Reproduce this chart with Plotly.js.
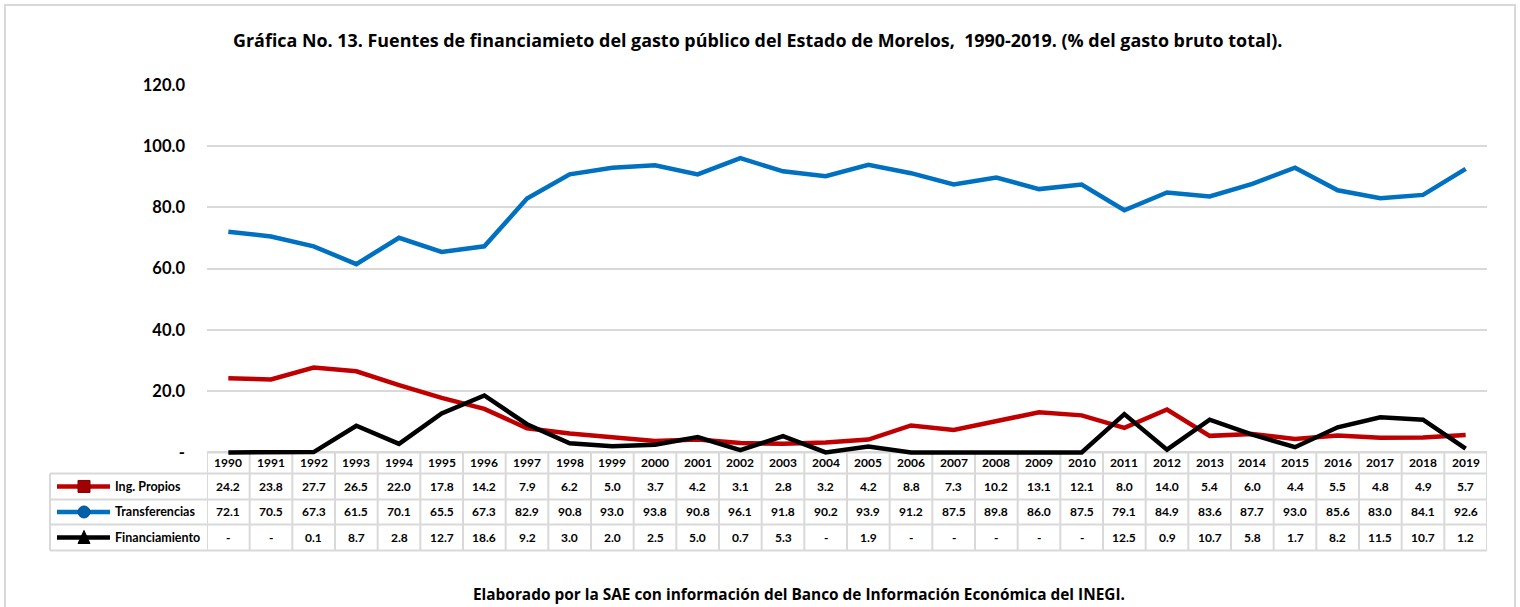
<!DOCTYPE html>
<html>
<head>
<meta charset="utf-8">
<script src="https://cdn.plot.ly/plotly-3.0.1.min.js"></script>
<style>
  html, body { margin:0; padding:0; background:#fff; }
  #chart { width:1520px; height:607px; }
</style>
</head>
<body>
<div id="chart"></div>
<script>
const years = [1990,1991,1992,1993,1994,1995,1996,1997,1998,1999,2000,2001,2002,2003,2004,2005,2006,2007,2008,2009,2010,2011,2012,2013,2014,2015,2016,2017,2018,2019];
const ingPropios = [24.2,23.8,27.7,26.5,22.0,17.8,14.2,7.9,6.2,5.0,3.7,4.2,3.1,2.8,3.2,4.2,8.8,7.3,10.2,13.1,12.1,8.0,14.0,5.4,6.0,4.4,5.5,4.8,4.9,5.7];
const transferencias = [72.1,70.5,67.3,61.5,70.1,65.5,67.3,82.9,90.8,93.0,93.8,90.8,96.1,91.8,90.2,93.9,91.2,87.5,89.8,86.0,87.5,79.1,84.9,83.6,87.7,93.0,85.6,83.0,84.1,92.6];
const financiamiento = [null,null,0.1,8.7,2.8,12.7,18.6,9.2,3.0,2.0,2.5,5.0,0.7,5.3,null,1.9,null,null,null,null,null,12.5,0.9,10.7,5.8,1.7,8.2,11.5,10.7,1.2];
const seriesNames = ["Ing. Propios","Transferencias","Financiamiento"];
const yTickVals = [0,20,40,60,80,100,120];
const yTickText = ["-","20.0","40.0","60.0","80.0","100.0","120.0"];
const titleText = "Gráfica No. 13. Fuentes de financiamieto del gasto público del Estado de Morelos,  1990-2019. (% del gasto bruto total).";
const sourceText = "Elaborado por la SAE con información del Banco de Información Económica del INEGI.";

const FONT = "Lato, 'Open Sans', sans-serif";
const FONT2 = "'Open Sans', Lato, sans-serif";
const colors = ["#C00000","#0070C0","#000000"];
const allSeries = [ingPropios, transferencias, financiamiento];

// pixel frame
const L = 207, R = 1487, T = 85, Y0 = 452, W = 1520, H = 607;
const yMax = 120, yMin = -1.5;
const perUnit = (Y0 - T) / yMax;
const B = Y0 - yMin * perUnit;
const px = x => (x - L) / (R - L);
const py = y => (B - y) / (B - T);

const traces = allSeries.map((s, i) => ({
  type: "scatter", mode: "lines", name: seriesNames[i],
  x: years, y: s.map(v => v === null ? 0 : v),
  line: { color: colors[i], width: 4.5 },
  hoverinfo: "x+y", showlegend: false
}));

const shapes = [];
const annotations = [];
const gridColor = "#D9D9D9";

// outer border
shapes.push({ type:"rect", xref:"paper", yref:"paper", layer:"below", x0:px(5), x1:px(1515), y0:py(5), y1:py(612),
  line:{ color:"#D9D9D9", width:2 }, fillcolor:"rgba(0,0,0,0)" });

// table rows (pixel y boundaries)
const rowEdges = [452, 473, 499, 524, 550];
shapes.push({ type:"line", xref:"paper", yref:"paper", layer:"below", x0:0, x1:1, y0:py(rowEdges[0]), y1:py(rowEdges[0]), line:{color:gridColor, width:2} });
for (let r = 1; r < rowEdges.length; r++) {
  shapes.push({ type:"line", xref:"paper", yref:"paper", layer:"below", x0:px(50), x1:1, y0:py(rowEdges[r]), y1:py(rowEdges[r]), line:{color:gridColor, width:2} });
}
shapes.push({ type:"line", xref:"paper", yref:"paper", layer:"below", x0:px(50), x1:px(50), y0:py(473), y1:py(550), line:{color:gridColor, width:2} });
years.concat([years[years.length-1] + 1]).forEach(yr => {
  shapes.push({ type:"line", xref:"x", yref:"paper", layer:"below", x0:yr - 0.5, x1:yr - 0.5, y0:py(452), y1:py(550), line:{color:gridColor, width:2} });
});

// year labels
years.forEach(yr => {
  annotations.push({ xref:"x", yref:"paper", x:yr, y:py((rowEdges[0]+rowEdges[1])/2), text:String(yr),
    showarrow:false, font:{ family:FONT, size:12, color:"#000", weight:"bold" }, xanchor:"center", yanchor:"middle" });
});
// values
allSeries.forEach((s, i) => {
  const yc = py((rowEdges[i+1] + rowEdges[i+2]) / 2);
  s.forEach((v, j) => {
    annotations.push({ xref:"x", yref:"paper", x:years[j], y:yc, text: v === null ? "-" : v.toFixed(1),
      showarrow:false, font:{ family:FONT, size:12, color:"#000", weight:"bold" }, xanchor:"center", yanchor:"middle" });
  });
  shapes.push({ type:"line", xref:"paper", yref:"paper", x0:px(57), x1:px(110), y0:yc, y1:yc, line:{ color:colors[i], width:4.5 } });
  annotations.push({ xref:"paper", yref:"paper", x:px(113), y:yc, text:seriesNames[i], showarrow:false,
    font:{ family:FONT, size:12.5, color:"#000", weight:"bold" }, xanchor:"left", yanchor:"middle" });
});
// legend markers
const ingY = (rowEdges[1]+rowEdges[2])/2, trY = (rowEdges[2]+rowEdges[3])/2, fiY = (rowEdges[3]+rowEdges[4])/2;
shapes.push({ type:"rect", xref:"paper", yref:"paper", x0:px(78), x1:px(90), y0:py(ingY-6), y1:py(ingY+6), fillcolor:"#A00000", line:{color:"#800000", width:1} });
shapes.push({ type:"circle", xref:"paper", yref:"paper", x0:px(78), x1:px(90), y0:py(trY-6), y1:py(trY+6), fillcolor:"#0060A8", line:{color:"#005090", width:1} });
shapes.push({ type:"path", xref:"paper", yref:"paper",
  path:`M ${px(78)} ${py(fiY+6)} L ${px(90)} ${py(fiY+6)} L ${px(84)} ${py(fiY-7)} Z`, fillcolor:"#000", line:{color:"#000", width:1} });

// title & source
annotations.push({ xref:"paper", yref:"paper", x:px(757), y:py(40), text:titleText, showarrow:false,
  font:{ family:FONT2, size:17.9, color:"#000", weight:"bold" }, xanchor:"center", yanchor:"middle" });
annotations.push({ xref:"paper", yref:"paper", x:px(799), y:py(594), text:sourceText, showarrow:false,
  font:{ family:FONT2, size:15.4, color:"#000", weight:"bold" }, xanchor:"center", yanchor:"middle" });

const layout = {
  width: W, height: H,
  margin: { l: L, r: W - R, t: T, b: H - B, pad: 0 },
  paper_bgcolor: "#fff", plot_bgcolor: "#fff",
  showlegend: false,
  xaxis: { range:[years[0]-0.5, years[years.length-1]+0.5], showticklabels:false, showgrid:false, zeroline:false, ticks:"", showline:false, fixedrange:true },
  yaxis: { range:[yMin, yMax], tickvals:yTickVals, ticktext:yTickText, showgrid:true, gridcolor:gridColor, gridwidth:2,
    zeroline:false, showline:false, ticks:"", ticklabelstandoff:21,
    tickfont:{ family:FONT, size:16.5, color:"#000", weight:"bold" }, fixedrange:true },
  shapes: shapes,
  annotations: annotations
};

Plotly.newPlot("chart", traces, layout, { displayModeBar:false, staticPlot:true });
</script>
</body>
</html>
